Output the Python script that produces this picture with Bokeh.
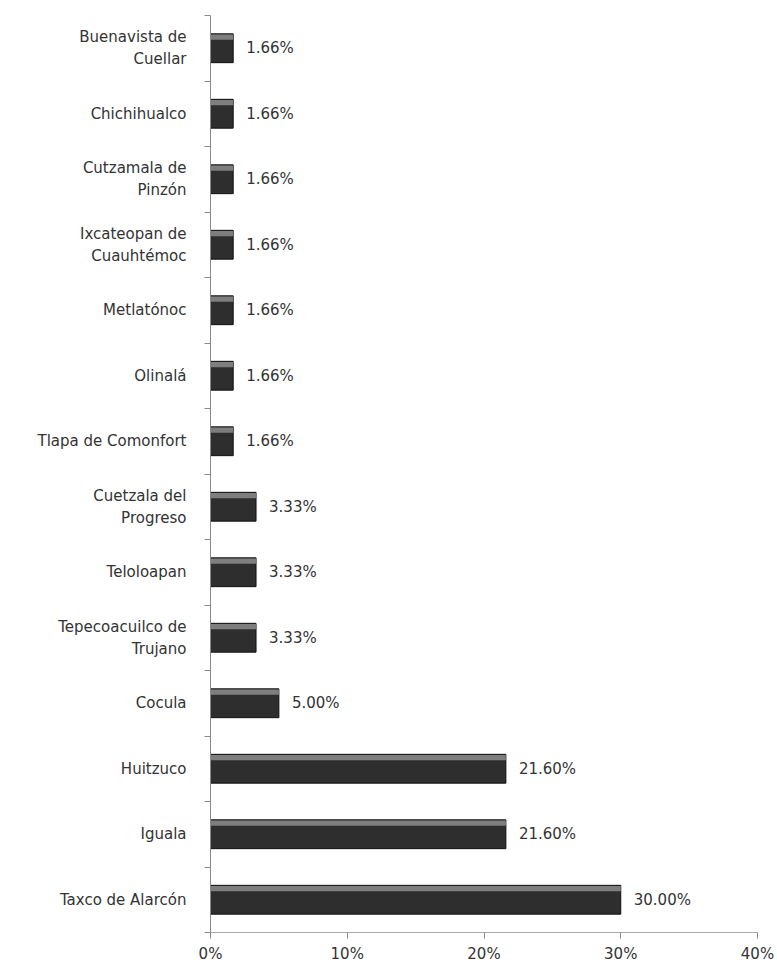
from bokeh.plotting import figure
from bokeh.models import ColumnDataSource, Range1d, FixedTicker, LinearAxis, PrintfTickFormatter
from bokeh.core.properties import value
from bokeh.embed import file_html
from bokeh.resources import INLINE

categories = ["Buenavista de\nCuellar", "Chichihualco", "Cutzamala de\nPinzón",
              "Ixcateopan de\nCuauhtémoc", "Metlatónoc", "Olinalá", "Tlapa de Comonfort",
              "Cuetzala del\nProgreso", "Teloloapan", "Tepecoacuilco de\nTrujano", "Cocula",
              "Huitzuco", "Iguala", "Taxco de Alarcón"]
values = [1.66, 1.66, 1.66, 1.66, 1.66, 1.66, 1.66, 3.33, 3.33, 3.33, 5.00, 21.60, 21.60, 30.00]
value_labels = ["1.66%", "1.66%", "1.66%", "1.66%", "1.66%", "1.66%", "1.66%",
                "3.33%", "3.33%", "3.33%", "5.00%", "21.60%", "21.60%", "30.00%"]
x_ticks = [0, 10, 20, 30, 40]

n = len(categories)
ypos = [n - 1 - i for i in range(n)]
src = ColumnDataSource(dict(y=ypos, v=values, lab=value_labels,
                            yt=[y + 0.17 for y in ypos]))

FONT = "DejaVu Sans"

p = figure(width=777, height=967, output_backend="svg", toolbar_location=None,
           x_range=Range1d(0, 40), y_range=Range1d(-0.5, n - 0.5),
           min_border_left=210, min_border_right=20, min_border_top=15, min_border_bottom=35,
           x_axis_location=None, y_axis_location=None)
p.outline_line_color = None
p.xgrid.visible = False
p.ygrid.visible = False
p.background_fill_color = "white"

# bars with bevel look
p.hbar(y="y", right="v", left=0, height=0.44, source=src,
       fill_color="#2e2e2e", line_color="#111111", line_width=1)
p.hbar(y="yt", right="v", left=0, height=0.08, source=src,
       fill_color="#8c8c8c", line_color=None, fill_alpha=0.85)
p.text(x="v", y="y", text="lab", source=src, x_offset=13,
       text_font=value(FONT), text_font_size="15px", text_color="#333333",
       text_baseline="middle", text_align="left")

# y axis
yax = LinearAxis(ticker=FixedTicker(ticks=ypos, minor_ticks=[i - 0.5 for i in range(n + 1)]))
yax.major_label_overrides = {ypos[i]: categories[i] for i in range(n)}
yax.major_tick_out = 0
yax.major_tick_in = 0
yax.minor_tick_out = 6
yax.minor_tick_in = 0
yax.minor_tick_line_color = "#888888"
yax.axis_line_color = "#888888"
yax.major_label_text_font = FONT
yax.major_label_text_font_size = "15px"
yax.major_label_text_color = "#333333"
yax.major_label_standoff = 18
p.add_layout(yax, "left")

# x axis
xax = LinearAxis(ticker=FixedTicker(ticks=x_ticks, minor_ticks=[]),
                 formatter=PrintfTickFormatter(format="%d%%"))
xax.major_tick_out = 6
xax.major_tick_in = 0
xax.major_tick_line_color = "#888888"
xax.axis_line_color = "#aaaaaa"
xax.major_label_text_font = FONT
xax.major_label_text_font_size = "15px"
xax.major_label_text_color = "#333333"
xax.major_label_standoff = 6
p.add_layout(xax, "below")

open("out.html", "w").write(file_html(p, INLINE))
